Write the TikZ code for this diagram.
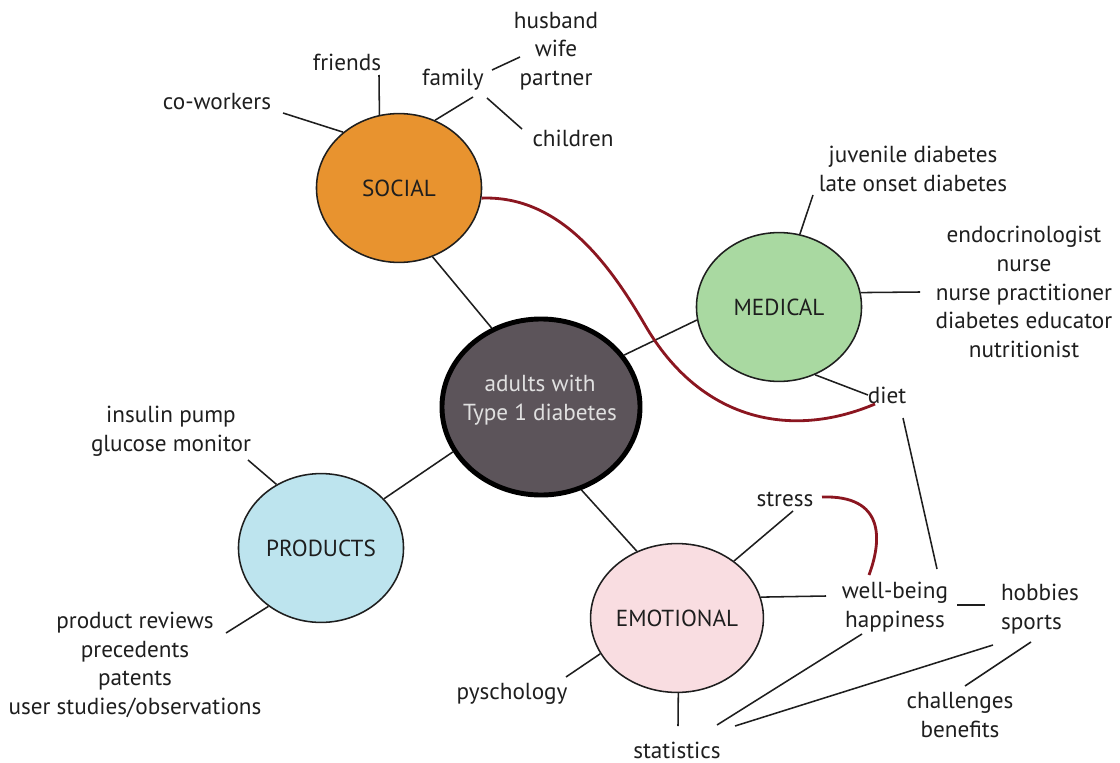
\documentclass[tikz,border=0pt]{standalone}
\usepackage{fontspec}
\setmainfont{PT Sans}
\usetikzlibrary{shapes.geometric}
\definecolor{socialfill}{HTML}{E8932F}
\definecolor{medicalfill}{HTML}{A9D9A1}
\definecolor{productfill}{HTML}{BDE4EE}
\definecolor{emotionfill}{HTML}{F9DDE1}
\definecolor{corefill}{HTML}{5C545A}
\definecolor{inkgray}{HTML}{1E1E1E}
\definecolor{linkred}{HTML}{8B1620}
\tikzset{
	hub/.style={ellipse, draw=inkgray, line width=1.1pt, inner sep=0pt,
		minimum width=4.125cm, minimum height=3.72cm, text=inkgray,
		font=\fontsize{16.5}{20.3}\selectfont},
	lbl/.style={inner sep=0pt, align=center, text=inkgray,
		font=\fontsize{16.5}{20.3}\selectfont},
	spoke/.style={draw=inkgray, line width=1.1pt},
	redlink/.style={draw=linkred, line width=2pt}
}

\begin{document}
\begin{tikzpicture}[x=0.025cm, y=-0.025cm]
			%%%%% START %%%%%
			\useasboundingbox (0, 0) rectangle (1120, 763);
			
			% circles
			\node[ellipse, draw=black, line width=3.5pt, fill=corefill, inner sep=0pt,
				minimum width=4.95cm, minimum height=4.4cm] (core) at (541, 407) {};
			\node[lbl, text=black!12] (coretext) at (540, 400) {adults with\\Type 1 diabetes};
			\node[hub, fill=socialfill] (social) at (399, 188) {SOCIAL};
			\node[hub, fill=medicalfill] (medical) at (779, 307) {MEDICAL};
			\node[hub, fill=productfill] (products) at (321, 548) {PRODUCTS};
			\node[hub, fill=emotionfill] (emotional) at (677, 618) {EMOTIONAL};
			
			% labels
			\node[lbl] (spouse) at (556, 51) {husband\\wife\\partner};
			\node[lbl] (friends) at (347, 62) {friends};
			\node[lbl] (family) at (453, 80) {family};
			\node[lbl] (coworkers) at (217, 102) {co-workers};
			\node[lbl] (children) at (573, 138) {children};
			\node[lbl] (types) at (913, 169) {juvenile diabetes\\late onset diabetes};
			\node[lbl] (staff) at (1024, 292) {endocrinologist\\nurse\\nurse practitioner\\diabetes educator\\nutritionist};
			\node[lbl] (diet) at (887, 395) {diet};
			\node[lbl] (devices) at (171, 431) {insulin pump\\glucose monitor};
			\node[lbl] (research) at (135, 665) {product reviews\\precedents\\patents\\user studies/observations};
			\node[lbl] (psych) at (512, 694) {pyschology};
			\node[lbl] (stats) at (677, 750) {statistics};
			\node[lbl] (stress) at (785, 499) {stress};
			\node[lbl] (wellbeing) at (895, 607) {well-being\\happiness};
			\node[lbl, align=left] (hobbies) at (1040, 609) {hobbies\\sports};
			\node[lbl] (challenges) at (960, 715) {challenges\\benefits};
			
			% free ends
			\coordinate (cw) at (283, 113);
			\coordinate (fr) at (379, 75);
			\coordinate (fa) at (473, 97);
			\coordinate (fb) at (492, 70);
			\coordinate (sp) at (520, 57);
			\coordinate (fc) at (487, 98);
			\coordinate (ch) at (522, 129);
			\coordinate (ty) at (813, 195);
			\coordinate (st) at (920, 292);
			\coordinate (da) at (868, 395);
			\coordinate (db) at (903, 418);
			\coordinate (wt) at (937, 569);
			\coordinate (dv) at (248, 460);
			\coordinate (rs) at (226, 633);
			\coordinate (ps) at (566, 677);
			\coordinate (sa) at (678, 726);
			\coordinate (ss) at (793, 511);
			\coordinate (wl) at (826, 596);
			\coordinate (wr) at (957, 605);
			\coordinate (hl) at (985, 605);
			\coordinate (hp) at (862, 634);
			\coordinate (sb) at (717, 725);
			\coordinate (so) at (993, 645);
			\coordinate (sc) at (735, 726);
			\coordinate (sd) at (1031, 642);
			\coordinate (ct) at (965, 686);
			\coordinate (re) at (875, 404);
			\coordinate (ra) at (822, 497);
			\coordinate (rb) at (869, 575);
			
			% hub spokes
			\draw[spoke] (social.-64) -- (core.122);
			\draw[spoke] (core.32) -- (medical.189);
			\draw[spoke] (core.207) -- (products.38);
			\draw[spoke] (core.-64) -- (emotional.121);
			
			% social
			\draw[spoke] (social.135) -- (cw);
			\draw[spoke] (social.105) -- (fr);
			\draw[spoke] (social.62) -- (fa);
			\draw[spoke] (fb) -- (sp);
			\draw[spoke] (fc) -- (ch);
			
			% medical
			\draw[spoke] (medical.74) -- (ty);
			\draw[spoke] (medical.10) -- (st);
			\draw[spoke] (medical.-62) -- (da);
			\draw[spoke] (db) -- (wt);
			
			% products
			\draw[spoke] (products.125) -- (dv);
			\draw[spoke] (products.228) -- (rs);
			
			% emotional
			\draw[spoke] (emotional.205) -- (ps);
			\draw[spoke] (emotional.-89) -- (sa);
			\draw[spoke] (emotional.45) -- (ss);
			\draw[spoke] (emotional.14) -- (wl);
			\draw[spoke] (wr) -- (hl);
			\draw[spoke] (hp) -- (sb);
			\draw[spoke] (so) -- (sc);
			\draw[spoke] (sd) -- (ct);
			
			% red links
			\draw[redlink] (social.-7.5) .. controls (560, 195) and (610, 265) .. (645, 325)
				.. controls (700, 420) and (790, 440) .. (re);
			\draw[redlink] (ra) .. controls (885, 495) and (882, 540) .. (rb);
			%%%%% END %%%%%
		\end{tikzpicture}
\end{document}
